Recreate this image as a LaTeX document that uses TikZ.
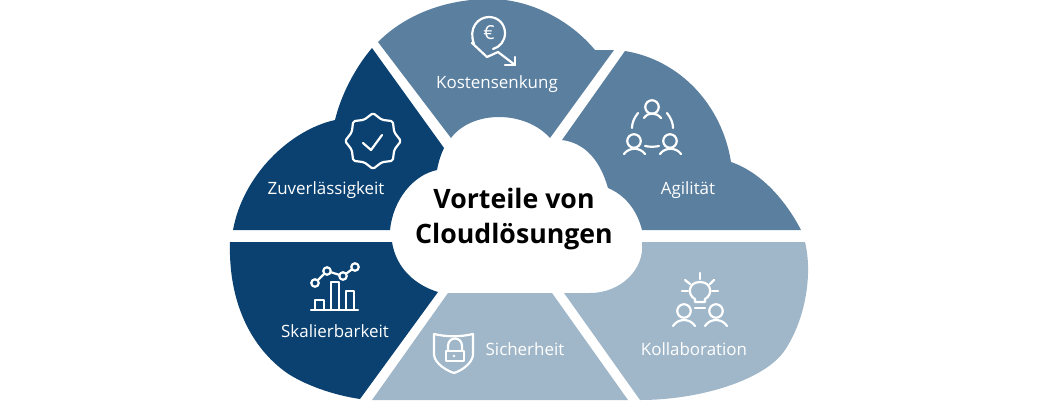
\documentclass[tikz,border=0pt]{standalone}
\usepackage{fontspec}
\setmainfont{Open Sans}
\usetikzlibrary{shapes.geometric}
\definecolor{darkblue}{HTML}{0A4170}
\definecolor{midblue}{HTML}{5A7F9F}
\definecolor{lightblue}{HTML}{A0B7C9}
\begin{document}
\begin{tikzpicture}[x=0.02cm,y=-0.02cm,
    label node/.style={text=white, font=\fontsize{9.65pt}{11pt}\selectfont, inner sep=0pt},
    title node/.style={text=black, font=\fontsize{15.2pt}{19.9pt}\selectfont\bfseries, align=center, inner sep=0pt},
    icon/.style={draw=white, line width=1.25pt, line cap=round, line join=round},
    head/.style={icon, circle, minimum size=0.27cm, inner sep=0pt},
    dot/.style={icon, circle, minimum size=0.15cm, inner sep=0pt}]
    \useasboundingbox (0,0) rectangle (1040,400);

    % segments
    \fill[midblue] (378,42) .. controls (408,12) and (450,-1) .. (490,-1)
        .. controls (530,-1) and (570,20) .. (595,50) -- (614,50) -- (550,138)
        .. controls (525,110) and (472,110) .. (451,138) -- cycle;
    \fill[midblue] (625,51) .. controls (680,60) and (722,105) .. (731,162)
        .. controls (763,173) and (787,203) .. (801,230) -- (642,230)
        .. controls (637,210) and (625,195) .. (608,188)
        .. controls (600,160) and (585,143) .. (562,140) -- cycle;
    \fill[darkblue] (372,48) .. controls (355,68) and (341,95) .. (335,120)
        .. controls (290,130) and (243,175) .. (233,230) -- (390,230)
        .. controls (393,200) and (413,175) .. (437,170)
        .. controls (439,160) and (441,154) .. (444,148) -- cycle;
    \fill[darkblue] (230,242) -- (392,242) .. controls (396,268) and (415,285) .. (438,292)
        -- (360,399) .. controls (333,395) and (305,385) .. (287,373)
        .. controls (257,352) and (228,310) .. (230,242) -- cycle;
    \fill[lightblue] (372,400) -- (448,293) -- (552,293) -- (628,400) -- cycle;
    \fill[lightblue] (564,293) -- (590,293) .. controls (620,293) and (645,270) .. (642,242)
        -- (805,242) .. controls (813,275) and (805,320) .. (785,350)
        .. controls (765,380) and (700,400) .. (640,400) -- cycle;

    % labels
    \node[label node] (kosten) at (497,84) {Kostensenkung};
    \node[label node] (zuver) at (326,190) {Zuverlässigkeit};
    \node[label node] (agil) at (688,190) {Agilität};
    \node[label node] (skal) at (335,331) {Skalierbarkeit};
    \node[label node] (sicher) at (525,349) {Sicherheit};
    \node[label node] (kollab) at (694,349) {Kollaboration};
    \node[title node] (title) at (514,219) {Vorteile von\\Cloudlösungen};

    % euro icon
    \draw[icon] (474,44) .. controls (468,28) and (478,17) .. (489,17)
        .. controls (499,17) and (505,25) .. (505,33)
        .. controls (505,41) and (500,47) .. (493,49);
    \node[text=white, font=\fontsize{11pt}{11pt}\selectfont, inner sep=0pt] (euro) at (489,33) {€};
    \draw[icon] (472,43) -- (487,57) -- (498,52) -- (515,65);
    \draw[icon] (515,57) -- (515,65) -- (505,65);

    % badge icon
    \node[icon, star, star points=8, star point ratio=1.22, minimum size=1.12cm, inner sep=0pt, rounded corners=1pt] (badge) at (373,141) {};
    \draw[icon] (363,143) -- (371,150) -- (382,135);

    % team icon
    \node[head] (h1) at (652,107) {};
    \node[head] (h2) at (634,141) {};
    \node[head] (h3) at (670,141) {};
    \draw[icon] (644,118) .. controls (648,112) and (656,112) .. (661,118);
    \draw[icon] (624,154) .. controls (629,147) and (640,147) .. (645,154);
    \draw[icon] (660,154) .. controls (665,147) and (676,147) .. (681,154);
    \draw[icon] (638,113) .. controls (634,118) and (632,123) .. (632,128);
    \draw[icon] (667,113) .. controls (671,118) and (673,123) .. (673,128);
    \draw[icon] (645,146) .. controls (650,147) and (654,147) .. (659,146);

    % chart icon
    \node[dot] (p1) at (315,283) {};
    \node[dot] (p2) at (327,271) {};
    \node[dot] (p3) at (343,276) {};
    \node[dot] (p4) at (355,267) {};
    \draw[icon] (p1) -- (p2);
    \draw[icon] (p2) -- (p3);
    \draw[icon] (p3) -- (p4);
    \draw[icon] (315,310) -- (315,300) -- (324,300) -- (324,310);
    \draw[icon] (331,310) -- (331,282) -- (339,282) -- (339,310);
    \draw[icon] (346,310) -- (346,291) -- (354,291) -- (354,310);
    \draw[icon] (311,310) -- (358,310);

    % shield icon
    \draw[icon] (434,334) .. controls (447,337) and (460,337) .. (473,334) -- (473,355)
        .. controls (472,363) and (463,370) .. (454,373)
        .. controls (445,370) and (435,363) .. (434,355) -- cycle;
    \draw[icon] (446,351) rectangle (464,361);
    \draw[icon] (448,351) -- (448,346) .. controls (448,336) and (462,336) .. (462,346) -- (462,351);
    \fill[white] (454,356) circle (1.3);

    % bulb icon
    \draw[icon] (695,302) -- (695,299) .. controls (687,295) and (688,282) .. (700,282)
        .. controls (712,282) and (713,295) .. (705,299) -- (705,302) -- cycle;
    \draw[icon] (695,308) -- (705,308);
    \draw[icon] (700,273) -- (700,279);
    \draw[icon] (685,280) -- (690,284);
    \draw[icon] (714,280) -- (710,284);
    \draw[icon] (682,291) -- (688,291);
    \draw[icon] (712,291) -- (718,291);
    \node[head] (h4) at (684,311) {};
    \node[head] (h5) at (716,311) {};
    \draw[icon] (673,326) .. controls (678,318) and (690,318) .. (695,326);
    \draw[icon] (705,326) .. controls (710,318) and (722,318) .. (727,326);
\end{tikzpicture}
\end{document}
